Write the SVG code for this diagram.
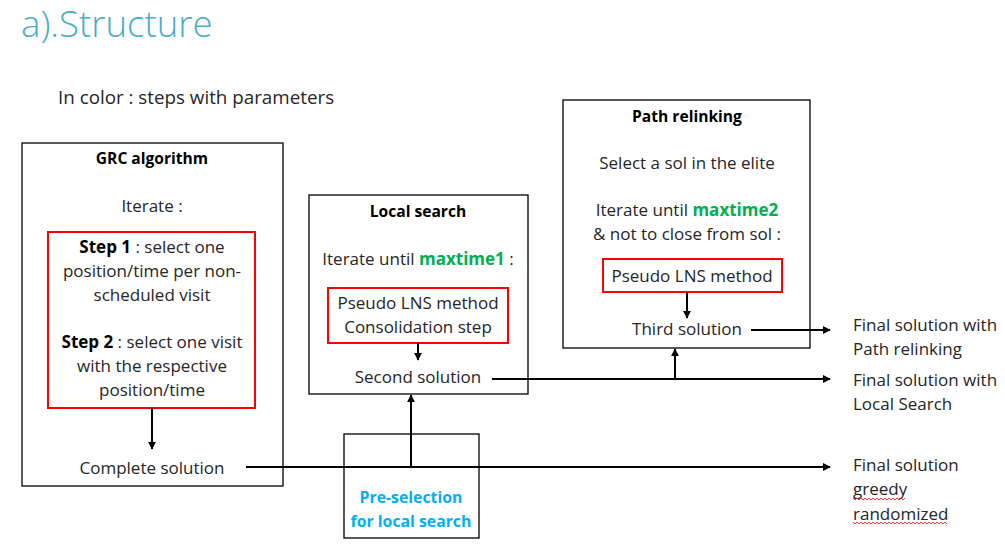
<svg xmlns="http://www.w3.org/2000/svg" width="1005" height="547" viewBox="0 0 1005 547">
<defs>
<style>
.t{font-family:"Open Sans","Noto Sans","Liberation Sans",sans-serif;font-size:17px;fill:#262626}
.c{text-anchor:middle}
.b{font-weight:bold;font-size:15.6px;fill:#000}
.g{fill:#00B050;font-weight:bold}
.box{fill:#fff;stroke:#000;stroke-width:1.3}
.red{fill:none;stroke:#FF0000;stroke-width:2}
.ln{fill:none;stroke:#000;stroke-width:2}
.sq{fill:none;stroke:#FF0000;stroke-width:0.8}
</style>
<marker id="ah" viewBox="0 0 10 10" refX="9" refY="5" markerWidth="4" markerHeight="4" orient="auto" markerUnits="strokeWidth">
<path d="M0,0 L10,5 L0,10 z" fill="#000"/>
</marker>
</defs>
<rect width="1005" height="547" fill="#fff"/>
<text x="21" y="37" style="font-family:'Open Sans','Noto Sans',sans-serif;font-weight:300;font-size:36.6px;fill:#4BACC6">a).Structure</text>
<text class="t" x="58" y="104" style="font-size:18.8px">In color : steps with parameters</text>

<g id="grc">
<rect class="box" x="22" y="143" width="261" height="343"/>
<text class="t c b" x="152" y="164">GRC algorithm</text>
<text class="t c" x="152" y="212">Iterate :</text>
<rect class="red" x="48" y="232" width="207" height="176"/>
<text class="t c" x="152" y="253"><tspan font-weight="bold" fill="#000">Step 1</tspan> : select one</text>
<text class="t c" x="152" y="277">position/time per non-</text>
<text class="t c" x="152" y="301">scheduled visit</text>
<text class="t c" x="152" y="348"><tspan font-weight="bold" fill="#000">Step 2</tspan> : select one visit</text>
<text class="t c" x="152" y="372">with the respective</text>
<text class="t c" x="152" y="396">position/time</text>
<text class="t c" x="152" y="474">Complete solution</text>
</g>

<g id="local-search">
<rect class="box" x="309" y="195" width="219" height="199"/>
<text class="t c b" x="418" y="217">Local search</text>
<text class="t c" x="418" y="265">Iterate until <tspan class="g">maxtime1</tspan> :</text>
<rect class="red" x="328" y="288" width="180" height="55"/>
<text class="t c" x="418" y="309">Pseudo LNS method</text>
<text class="t c" x="418" y="333">Consolidation step</text>
<text class="t c" x="418" y="383">Second solution</text>
</g>

<g id="path-relinking">
<rect class="box" x="563" y="100" width="247" height="248"/>
<text class="t c b" x="687" y="122">Path relinking</text>
<text class="t c" x="687" y="169">Select a sol in the elite</text>
<text class="t c" x="687" y="216">Iterate until <tspan class="g">maxtime2</tspan></text>
<text class="t c" x="687" y="240">&amp; not to close from sol :</text>
<rect class="red" x="603" y="259" width="179" height="33"/>
<text class="t c" x="692" y="282">Pseudo LNS method</text>
<text class="t c" x="687" y="335">Third solution</text>
</g>

<g id="pre-selection">
<rect class="box" x="344" y="434" width="135" height="104"/>
<text class="t c" x="411" y="503" style="font-weight:bold;font-size:15.8px;fill:#00B0F0">Pre-selection</text>
<text class="t c" x="411" y="527" style="font-weight:bold;font-size:15.8px;fill:#00B0F0">for local search</text>
</g>

<g id="outputs">
<text class="t" x="853" y="331">Final solution with</text>
<text class="t" x="853" y="355">Path relinking</text>
<text class="t" x="853" y="386">Final solution with</text>
<text class="t" x="853" y="410">Local Search</text>
<text class="t" x="853" y="471">Final solution</text>
<text class="t" x="853" y="495">greedy</text>
<text class="t" x="853" y="520">randomized</text>
<path class="sq" d="M853,498 l2,2 l2,-2 l2,2 l2,-2 l2,2 l2,-2 l2,2 l2,-2 l2,2 l2,-2 l2,2 l2,-2 l2,2 l2,-2 l2,2 l2,-2 l2,2 l2,-2 l2,2 l2,-2 l2,2 l2,-2 l2,2 l2,-2 l2,2 l2,-2"/>
<path class="sq" d="M853,522 l2,2 l2,-2 l2,2 l2,-2 l2,2 l2,-2 l2,2 l2,-2 l2,2 l2,-2 l2,2 l2,-2 l2,2 l2,-2 l2,2 l2,-2 l2,2 l2,-2 l2,2 l2,-2 l2,2 l2,-2 l2,2 l2,-2 l2,2 l2,-2 l2,2 l2,-2 l2,2 l2,-2 l2,2 l2,-2 l2,2 l2,-2 l2,2 l2,-2 l2,2 l2,-2 l2,2 l2,-2 l2,2 l2,-2 l2,2 l2,-2 l2,2 l2,-2 l2,2"/>
</g>

<g id="connectors">
<line class="ln" x1="152" y1="408" x2="152" y2="449" marker-end="url(#ah)"/>
<line class="ln" x1="418" y1="343" x2="418" y2="360" marker-end="url(#ah)"/>
<line class="ln" x1="687" y1="292" x2="687" y2="318" marker-end="url(#ah)"/>
<line class="ln" x1="246" y1="467" x2="830" y2="467" marker-end="url(#ah)"/>
<line class="ln" x1="411" y1="467" x2="411" y2="395" marker-end="url(#ah)"/>
<line class="ln" x1="492" y1="379" x2="830" y2="379" marker-end="url(#ah)"/>
<line class="ln" x1="675" y1="379" x2="675" y2="349" marker-end="url(#ah)"/>
<line class="ln" x1="751" y1="330" x2="830" y2="330" marker-end="url(#ah)"/>
</g>
</svg>
